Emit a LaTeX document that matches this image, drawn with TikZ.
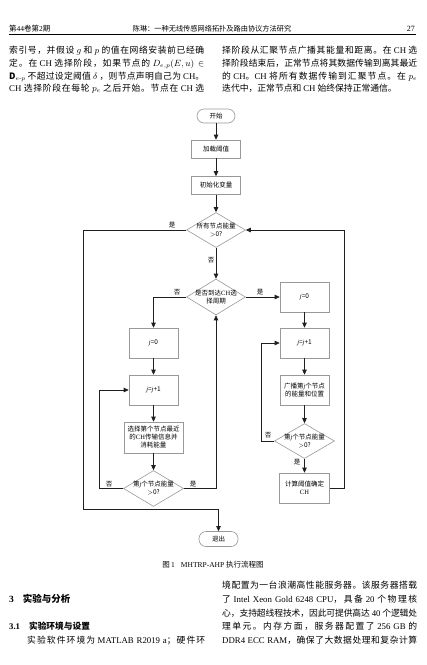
\documentclass[tikz,border=0pt]{standalone}
\usepackage{amsmath}
\usepackage{fontspec}
\setmainfont{Noto Sans CJK SC}
\newfontfamily\lat{Liberation Serif}
\usetikzlibrary{arrows.meta,shapes.geometric}
\XeTeXinterchartokenstate=1
\newcount\cjkc
\cjkc="4E00
\loop
  \XeTeXcharclass\cjkc=10
  \advance\cjkc by 1
\ifnum\cjkc<"A000 \repeat
\XeTeXcharclass"3001=10
\XeTeXcharclass"3002=10
\XeTeXcharclass"FF0C=10
\XeTeXcharclass"FF1A=10
\XeTeXcharclass"FF1B=10
\newcommand\cjkglue{\hskip 0pt plus 2pt minus 0.4pt\relax}
\XeTeXinterchartoks 10 10 = {\cjkglue}
\newcommand\jline[1]{\makebox[195pt][s]{#1}}
\newcommand\ffont{\fontsize{6.5}{8}\selectfont}
\definecolor{boxgray}{gray}{0.6}
\definecolor{linecol}{gray}{0.12}
\begin{document}
\begin{tikzpicture}[x=1pt,y=-1pt,
  txt/.style={anchor=west, inner sep=0pt, font=\fontsize{8.8}{10}\selectfont, text height=7pt, text depth=1.8pt},
  box/.style={draw=boxgray, line width=0.6pt, fill=white, minimum width=49pt, minimum height=30pt, inner sep=1pt, align=center, font=\ffont},
  term/.style={draw=boxgray, line width=0.6pt, fill=white, rounded corners=7pt, minimum width=38pt, minimum height=14pt, inner sep=1pt, font=\ffont},
  dia/.style={diamond, draw=boxgray, line width=0.6pt, fill=white, inner sep=0pt, minimum width=59pt, minimum height=35pt},
  ft/.style={align=center, inner sep=0pt, font=\ffont},
  lbl/.style={inner sep=0pt, font=\ffont},
  arr/.style={draw=linecol, line width=0.7pt, -{Triangle[length=5pt,width=4.5pt]}},
  ln/.style={draw=linecol, line width=0.7pt}]
\useasboundingbox (0,0) rectangle (427,665);

% header
\node[anchor=west, inner sep=0pt, font=\fontsize{7.5}{9}\selectfont] (h1) at (9,29) {第{\lat 44}卷第{\lat 2}期};
\node[inner sep=0pt, font=\fontsize{7.2}{9}\selectfont] (h2) at (212,29) {陈琳：一种无线传感网络拓扑及路由协议方法研究};
\node[anchor=east, inner sep=0pt, font=\fontsize{8}{9}\selectfont] (h3) at (415,29) {{\lat 27}};
\draw[line width=1pt] (9,34.5) -- (416,34.5);

% top text, left column
\node[txt] (l1) at (9,51) {\jline{索引号，并假设 $g$ 和 $p$ 的值在网络安装前已经确}};
\node[txt] (l2) at (9,63.7) {\jline{定。在 {\lat CH} 选择阶段，如果节点的 $D_{e,p}(E,u)\in$}};
\node[txt] (l3) at (9,76.4) {\jline{$\mathbf{D}_{e\text{-}p}$ 不超过设定阈值 $\delta$ ，则节点声明自己为 {\lat CH}。}};
\node[txt] (l4) at (9,89) {\jline{{\lat CH} 选择阶段在每轮 $p_e$ 之后开始。节点在 {\lat CH} 选}};
% top text, right column
\node[txt] (r1) at (222,51) {\jline{择阶段从汇聚节点广播其能量和距离。在 {\lat CH} 选}};
\node[txt] (r2) at (222,63.7) {\jline{择阶段结束后，正常节点将其数据传输到离其最近}};
\node[txt] (r3) at (222,76.4) {\jline{的 {\lat CH}。{\lat CH} 将所有数据传输到汇聚节点。在 $p_e$}};
\node[txt] (r4) at (222,89) {迭代中，正常节点和 {\lat CH} 始终保持正常通信。};

% flowchart nodes
\node[term] (start) at (216,116) {开始};
\node[box, minimum height=18pt] (load) at (216,149) {加载阈值};
\node[box, minimum height=18pt] (init) at (216,185.5) {初始化变量};
\node[dia] (d1) at (216,230) {};
\node[ft] (d1t) at (216,230) {所有节点能量\\$>$0?};
\node[dia, minimum height=36pt] (d2) at (216,297) {};
\node[ft] (d2t) at (216,297) {是否到达{\lat CH}选\\择周期};
\node[box] (rj0) at (304.5,297) {{\lat\itshape j}=0};
\node[box] (rj1) at (304.5,343) {{\lat\itshape j}={\lat\itshape j}+1};
\node[box] (bc) at (304.5,390) {广播第{\lat\itshape j}个节点\\的能量和位置};
\node[dia, minimum width=60pt] (rd) at (304.5,441) {};
\node[ft] (rdt) at (304.5,441) {第{\lat\itshape j}个节点能量\\$>$0?};
\node[box, minimum width=50pt] (calc) at (304.5,488) {计算阈值确定\\{\lat CH}};
\node[box] (lj0) at (153.5,343) {{\lat\itshape j}=0};
\node[box] (lj1) at (153.5,390) {{\lat\itshape j}={\lat\itshape j}+1};
\node[box, minimum width=59pt, minimum height=31pt] (sel) at (153.5,437.5) {选择第个节点最近\\的{\lat CH}传输信息并\\消耗能量};
\node[dia, minimum width=60pt, minimum height=36pt] (ld) at (153.5,488.5) {};
\node[ft] (ldt) at (153.5,488.5) {第{\lat\itshape j}个节点能量\\$>$0?};
\node[term, minimum width=39pt, minimum height=15pt] (exit) at (218.5,539) {退出};

% connectors
\draw[arr] (start) -- (load);
\draw[arr] (load) -- (init);
\draw[arr] (init) -- (d1);
\draw[arr] (d1) -- (d2);
\draw[arr] (d1.west) -| (83,509) -| (exit.north);
\draw[arr] (d2.west) -| (lj0.north);
\draw[arr] (d2.east) -- (rj0.west);
\draw[arr] (lj0) -- (lj1);
\draw[arr] (lj1) -- (sel);
\draw[arr] (sel) -- (ld);
\draw[arr] (ld.west) -- (99.5,488.5) |- (lj1.west);
\draw[arr] (ld.east) -| (d2.south);
\draw[arr] (rj0) -- (rj1);
\draw[arr] (rj1) -- (bc);
\draw[arr] (bc) -- (rd);
\draw[arr] (rd.west) -- (261.5,441) |- (rj1.west);
\draw[arr] (rd) -- (calc);
\draw[arr] (calc.east) -- (344.5,488) |- (d1.east);

% connector labels
\node[lbl] (y1) at (172,225) {是};
\node[lbl] (n1) at (211,260) {否};
\node[lbl] (n2) at (177,292) {否};
\node[lbl] (y2) at (260,292) {是};
\node[lbl] (n3) at (109,484) {否};
\node[lbl] (y3) at (193,484) {是};
\node[lbl] (n4) at (268,435) {否};
\node[lbl] (y4) at (297,462) {是};

% caption
\node[inner sep=0pt, font=\fontsize{7.5}{9}\selectfont] (cap) at (213,565) {图\,{\lat 1}\hspace{6pt}{\lat MHTRP-AHP} 执行流程图};

% bottom text, left column
\node[txt, font=\fontsize{9.5}{11}\selectfont\bfseries] (sec) at (9,600) {{\lat 3}\hspace{9pt}实验与分析};
\node[txt, font=\fontsize{8.7}{10}\selectfont\bfseries] (sub) at (9,627) {{\lat 3.1}\hspace{9pt}实验环境与设置};
\node[txt] (lb1) at (27,641) {\makebox[178pt][s]{实验软件环境为 {\lat MATLAB R2019 a}；硬件环}};
% bottom text, right column
\node[txt] (b1) at (222,586) {\jline{境配置为一台浪潮高性能服务器。该服务器搭载}};
\node[txt] (b2) at (222,600) {\jline{了 {\lat Intel Xeon Gold 6248 CPU}，具备 {\lat 20} 个物理核}};
\node[txt] (b3) at (222,613.5) {\jline{心，支持超线程技术，因此可提供高达 {\lat 40} 个逻辑处}};
\node[txt] (b4) at (222,627) {\jline{理单元。内存方面，服务器配置了 {\lat 256 GB} 的}};
\node[txt] (b5) at (222,641) {\jline{{\lat DDR4 ECC RAM}，确保了大数据处理和复杂计算}};
\end{tikzpicture}
\end{document}
